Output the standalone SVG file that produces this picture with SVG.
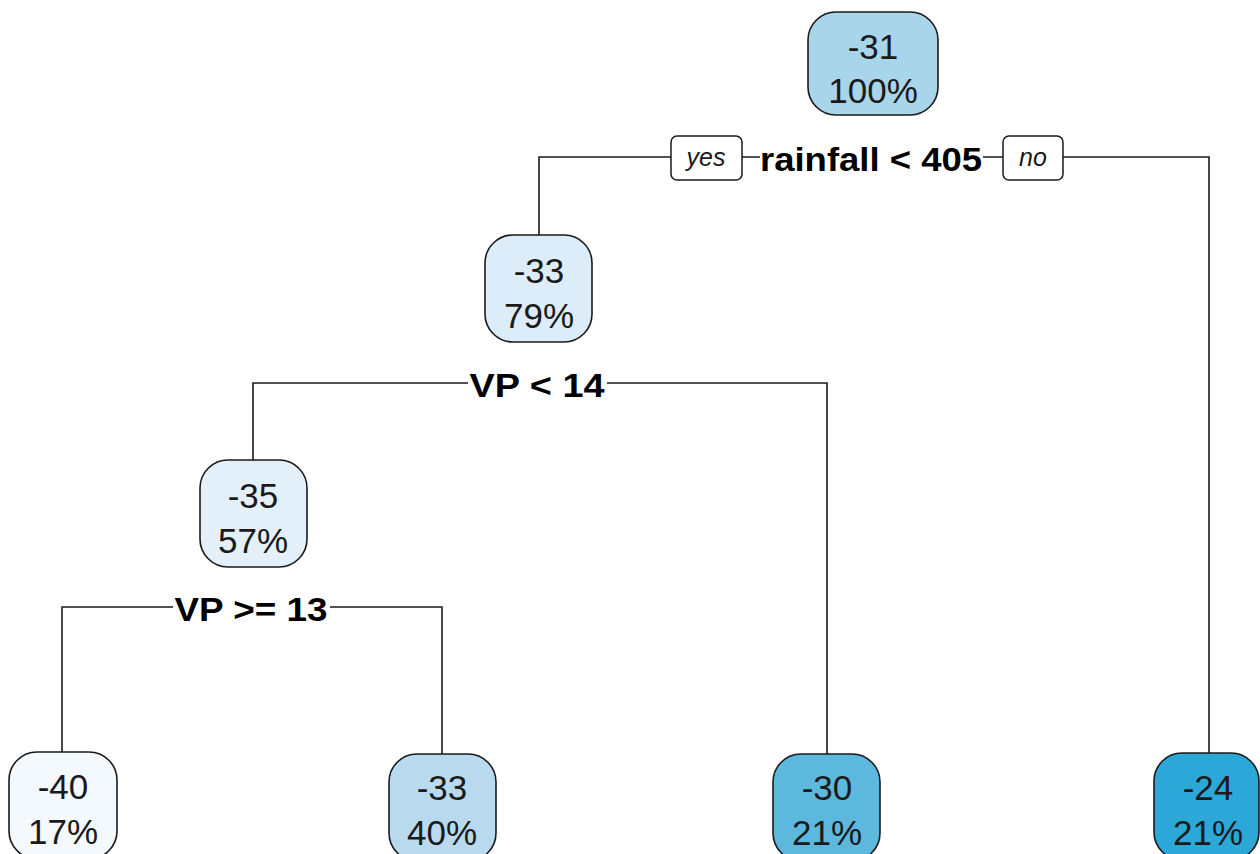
<svg xmlns="http://www.w3.org/2000/svg" width="1260" height="854" viewBox="0 0 1260 854">
<style>
.node rect{stroke:#1a1a1a;stroke-width:1.6}
.nt{font-family:"Liberation Sans",Arial,sans-serif;font-size:35px;fill:#1a1a1a;text-anchor:middle}
.split{font-family:"Liberation Sans",Arial,sans-serif;font-size:33px;font-weight:bold;fill:#000;text-anchor:middle}
.yn{font-family:"Liberation Sans",Arial,sans-serif;font-size:25px;font-style:italic;fill:#1a1a1a;text-anchor:middle}
.yn-box{fill:#fff;stroke:#1a1a1a;stroke-width:1.5}
.conn{fill:none;stroke:#1a1a1a;stroke-width:1.6}
</style>
<rect width="1260" height="854" fill="#fff"/>
<g id="connectors" class="conn">
<path d="M539,235 V157 H672 M742,157 H760 M983,157 H1003 M1063,157 H1209 V753"/>
<path d="M253,460 V383 H468 M607,383 H827 V755"/>
<path d="M62,752 V607 H173 M330,607 H442 V755"/>
</g>
<g id="labels">
<rect class="yn-box" x="671" y="136" width="71" height="44" rx="6"/>
<text class="yn" x="706" y="166">yes</text>
<rect class="yn-box" x="1003" y="136" width="60" height="44" rx="6"/>
<text class="yn" x="1033" y="166">no</text>
<text class="split" x="871" y="171" textLength="222" lengthAdjust="spacingAndGlyphs">rainfall &lt; 405</text>
<text class="split" x="537" y="397" textLength="135" lengthAdjust="spacingAndGlyphs">VP &lt; 14</text>
<text class="split" x="251" y="621" textLength="153" lengthAdjust="spacingAndGlyphs">VP &gt;= 13</text>
</g>
<g id="node1" class="node">
<rect x="808" y="12" width="130" height="103" rx="28" fill="#a8d5ea"/>
<text class="nt" x="873" y="59">-31</text>
<text class="nt" x="873" y="103">100%</text>
</g>
<g id="node2" class="node">
<rect x="485" y="235" width="107" height="107" rx="28" fill="#dcecf8"/>
<text class="nt" x="539" y="283">-33</text>
<text class="nt" x="539" y="328">79%</text>
</g>
<g id="node3" class="node">
<rect x="200" y="460" width="107" height="107" rx="28" fill="#e3f0f9"/>
<text class="nt" x="253" y="508">-35</text>
<text class="nt" x="253" y="553">57%</text>
</g>
<g id="node4" class="node">
<rect x="9" y="752" width="108" height="107" rx="28" fill="#f4f9fe"/>
<text class="nt" x="63" y="799">-40</text>
<text class="nt" x="63" y="844">17%</text>
</g>
<g id="node5" class="node">
<rect x="389" y="754" width="107" height="107" rx="28" fill="#b9daee"/>
<text class="nt" x="442" y="800">-33</text>
<text class="nt" x="442" y="845">40%</text>
</g>
<g id="node6" class="node">
<rect x="773" y="754" width="107" height="107" rx="28" fill="#5cb8dd"/>
<text class="nt" x="827" y="800">-30</text>
<text class="nt" x="827" y="845">21%</text>
</g>
<g id="node7" class="node">
<rect x="1154" y="753" width="105" height="107" rx="28" fill="#2ba8d8"/>
<text class="nt" x="1208" y="800">-24</text>
<text class="nt" x="1208" y="845">21%</text>
</g>
</svg>
